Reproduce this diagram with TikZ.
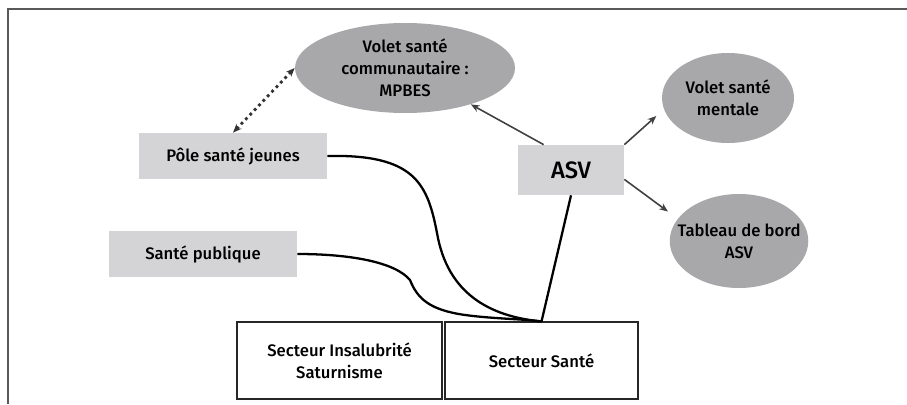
\documentclass[tikz,border=0pt]{standalone}
\usepackage{amsmath}
\usepackage{fontspec}
\setmainfont{Fira Sans}[UprightFont=* Medium]
\usetikzlibrary{shapes.geometric,arrows.meta}
\definecolor{bullegris}{HTML}{A8A8AA}
\definecolor{cadregris}{HTML}{D4D4D6}

\begin{document}
\begin{tikzpicture}[font=\fontsize{9.5}{12.5}\selectfont,
        bulle/.style={ellipse, fill=bullegris, align=center, inner xsep=-0.25cm, inner ysep=-0.1cm},
        cadre/.style={rectangle, fill=cadregris, align=center, minimum width=3.76cm, minimum height=0.92cm},
        secteur/.style={rectangle, draw=black!85, fill=white, align=center, minimum height=1.54cm, line width=0.6pt},
        fleche/.style={-{Stealth[length=5pt,width=4pt]}, draw=black!75, line width=0.9pt},
        lien/.style={line width=1.3pt}]
                \useasboundingbox (0,0) rectangle (18.14,8.08);
                \draw [line width=1.4pt, black!65] (18.14,7.9) -- (0.16,7.9) -- (0.16,0);
                \node [bulle, minimum width=4.4cm, minimum height=1.8cm] (com) at (8.10,6.72) {Volet santé\\communautaire :\\MPBES};
                \node [bulle, minimum width=2.64cm, minimum height=1.8cm] (mentale) at (14.56,6.12) {Volet santé\\mentale};
                \node [bulle, minimum width=2.68cm, minimum height=1.88cm] (tableau) at (14.78,3.26) {Tableau de bord\\ASV};
                \node [cadre, minimum width=2.12cm, minimum height=1cm, font=\fontsize{13.5}{16}\selectfont] (asv) at (11.42,4.68) {ASV};
                \node [cadre] (pole) at (4.66,4.96) {Pôle santé jeunes};
                \node [cadre] (publique) at (4.06,3.0) {Santé publique};
                \node [secteur, minimum width=4.1cm] (insalubrite) at (6.79,0.87) {Secteur Insalubrité\\Saturnisme};
                \node [secteur, minimum width=3.86cm] (sante) at (10.83,0.87) {Secteur Santé};
                \draw [{Stealth[length=5pt,width=4pt]}-{Stealth[length=5pt,width=4pt]}, dotted, line width=1.6pt, black!80] (com.west) -- (pole.north);
                \draw [fleche] ([xshift=0.52cm]asv.north west) -- (com);
                \draw [fleche, shorten >=0.2cm] (asv.north east) -- (mentale.190);
                \draw [fleche, shorten >=0.24cm] (asv.-10) -- (tableau.160);
                \draw [lien] (asv.south) -- (sante.north);
                \draw [lien] (pole.east) .. controls (8.3,5.0) and (8.55,4.4) .. (8.74,3.42) .. controls (8.95,2.2) and (9.8,1.75) .. (sante.north);
                \draw [lien] (publique.east) .. controls (7.0,3.0) and (7.9,2.84) .. (8.2,2.48) .. controls (8.35,2.1) and (8.6,1.88) .. (9.3,1.78) .. controls (9.9,1.7) and (10.5,1.7) .. (sante.north);
            \end{tikzpicture}
\end{document}
